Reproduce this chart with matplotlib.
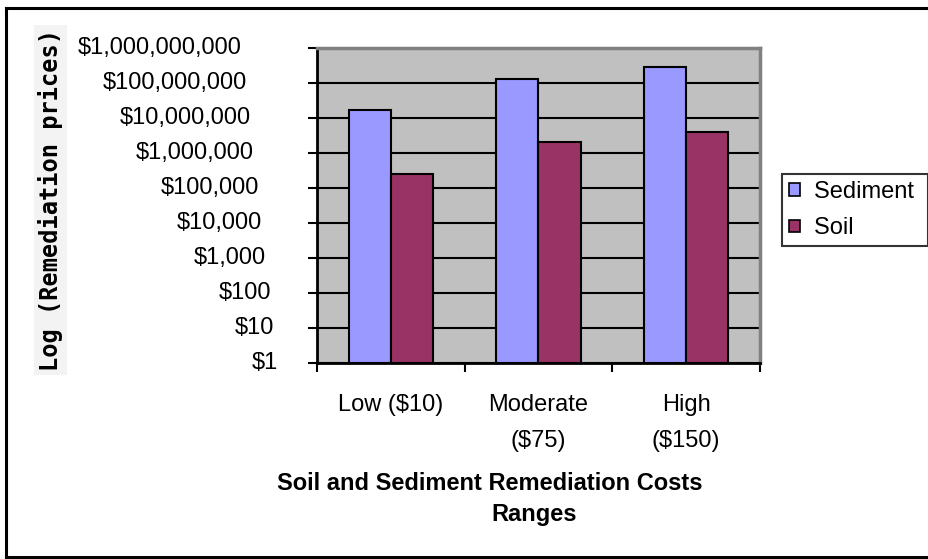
import numpy as np
import matplotlib
matplotlib.use("Agg")
import matplotlib.pyplot as plt
import matplotlib.ticker as ticker
from matplotlib.patches import Patch
from matplotlib.lines import Line2D
from matplotlib.transforms import offset_copy

plt.rcParams["font.family"] = ["Liberation Sans", "DejaVu Sans"]

## Datos ======================================================================
categories = ["Low ($10)", "Moderate\n($75)", "High\n($150)"]
series = ["Sediment", "Soil"]
sediment = [1.7e7, 1.3e8, 2.8e8]
soil = [2.5e5, 2.0e6, 4.1e6]
y_ticks = [1, 1e1, 1e2, 1e3, 1e4, 1e5, 1e6, 1e7, 1e8, 1e9]
y_labels = ["$1", "$10", "$100", "$1,000", "$10,000", "$100,000",
            "$1,000,000", "$10,000,000", "$100,000,000", "$1,000,000,000"]

colors = ["#9999FF", "#993366"]

## Figura =====================================================================
fig = plt.figure(figsize=(9.29, 5.59), dpi=100)
ax = fig.add_axes([0.3412, 0.3506, 0.4769, 0.5635])
ax.set_facecolor("#C0C0C0")

x = np.arange(len(categories))
w = 0.2857
ax.bar(x - w / 2, sediment, width=w, bottom=1, color=colors[0],
       edgecolor="black", linewidth=1.5, zorder=3)
ax.bar(x + w / 2, soil, width=w, bottom=1, color=colors[1],
       edgecolor="black", linewidth=1.5, zorder=3)

ax.set_yscale("log")
ax.set_ylim(1, 1e9)
ax.set_xlim(-0.5, 2.5)
ax.yaxis.set_major_locator(ticker.FixedLocator(y_ticks))
ax.yaxis.set_minor_locator(ticker.NullLocator())
ax.yaxis.set_major_formatter(ticker.NullFormatter())
ax.grid(axis="y", color="black", linewidth=1.5, zorder=1)
ax.set_axisbelow(True)

# ticks del eje x en los bordes de cada categoría, etiquetas al centro
ax.set_xticks([-0.5, 0.5, 1.5, 2.5])
ax.set_xticklabels([])
ax.set_xticks(x, minor=True)
ax.set_xticklabels(categories, minor=True, fontsize=17, linespacing=1.85)
ax.tick_params(axis="x", which="minor", length=0, pad=22)
ax.tick_params(axis="both", which="major", direction="out", length=6.5,
               width=1.5, color="black")

for side in ["left", "bottom"]:
    ax.spines[side].set_color("black")
    ax.spines[side].set_linewidth(2)
for side in ["top", "right"]:
    ax.spines[side].set_color("#808080")
    ax.spines[side].set_linewidth(2.5)

# etiquetas del eje y (desplazadas según su ancho)
texts = [ax.text(0, v, s, transform=ax.get_yaxis_transform(), ha="right",
                 va="center", fontsize=17)
         for v, s in zip(y_ticks, y_labels)]
fig.canvas.draw()
renderer = fig.canvas.get_renderer()
for t in texts:
    tw = t.get_window_extent(renderer).width
    t.set_transform(offset_copy(ax.get_yaxis_transform(), fig=fig,
                                x=-(32.5 + 0.26 * tw), units="dots"))

# título del eje y
fig.text(0.0545, 0.642, "Log (Remediation prices)", rotation=90,
         ha="center", va="center", fontsize=17, fontweight="bold",
         family="DejaVu Sans Mono",
         bbox=dict(facecolor="#F3F3F3", edgecolor="none", pad=3))

# título del eje x
fig.text(490 / 929, 1 - 483 / 559, "Soil and Sediment Remediation Costs",
         ha="center", va="center", fontsize=17, fontweight="bold")
fig.text(534 / 929, 1 - 514 / 559, "Ranges",
         ha="center", va="center", fontsize=17, fontweight="bold")

# leyenda
handles = [Patch(facecolor=c, edgecolor="black", linewidth=1.2) for c in colors]
leg = fig.legend(handles, [s + " " for s in series], loc="center left",
                 bbox_to_anchor=(782 / 929, 1 - 210 / 559), fontsize=17,
                 frameon=True, fancybox=False, handlelength=0.45,
                 handleheight=0.45, handletextpad=0.6, borderpad=0.3,
                 labelspacing=0.62, borderaxespad=0)
leg.get_frame().set_edgecolor("black")
leg.get_frame().set_linewidth(1.5)

# marco exterior (izquierda, arriba y abajo)
x0, x1 = 6.5 / 929, 1.0
y0, y1 = 1 - 557 / 559, 1 - 7.5 / 559
for xs, ys in [([x0, x1], [y1, y1]), ([x0, x1], [y0, y0]), ([x0, x0], [y0, y1])]:
    fig.add_artist(Line2D(xs, ys, transform=fig.transFigure, color="black",
                          linewidth=2.2, solid_capstyle="projecting"))

plt.savefig("out.png", dpi=100)
